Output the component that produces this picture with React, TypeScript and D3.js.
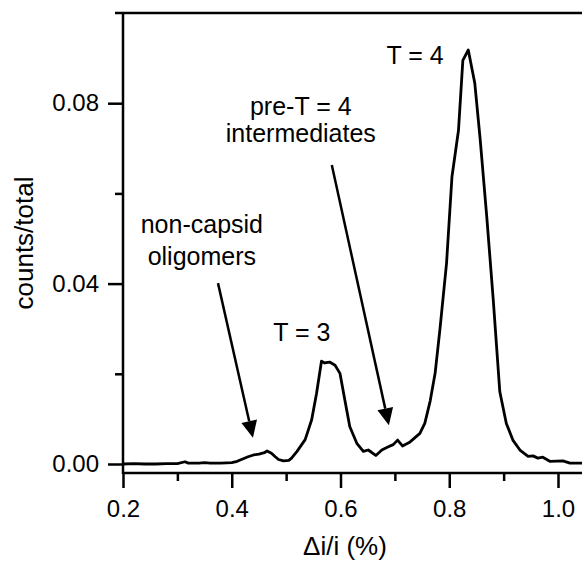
import React, { useEffect, useRef } from 'react';
import * as d3 from 'd3';

// bin centres (Δi/i, %) and fraction of counts
const binX = [
  0.2, 0.22, 0.24, 0.26, 0.28, 0.3, 0.314, 0.32, 0.34, 0.35, 0.36, 0.38, 0.4, 0.41, 0.42, 0.43,
  0.44, 0.45, 0.46, 0.465, 0.473, 0.48, 0.486, 0.495, 0.505, 0.51, 0.52, 0.535, 0.547, 0.556,
  0.565, 0.571, 0.58, 0.59, 0.599, 0.608, 0.617, 0.63, 0.642, 0.651, 0.657, 0.665, 0.676, 0.688,
  0.697, 0.705, 0.714, 0.728, 0.746, 0.755, 0.765, 0.774, 0.783, 0.795, 0.805, 0.817, 0.825,
  0.835, 0.847, 0.857, 0.869, 0.881, 0.893, 0.905, 0.917, 0.93, 0.945, 0.954, 0.963, 0.972,
  0.985, 1.009, 1.022, 1.05,
];
const counts = [
  0.0, 0.0001, 0.0, 0.0, 0.0001, 0.0001, 0.0005, 0.0002, 0.0002, 0.0003, 0.0002, 0.0002, 0.0003,
  0.0006, 0.0011, 0.0016, 0.002, 0.0022, 0.0025, 0.0029, 0.0024, 0.0016, 0.001, 0.0007, 0.0008,
  0.0013, 0.0028, 0.0054, 0.0098, 0.0157, 0.0228, 0.0224, 0.0226, 0.0219, 0.0201, 0.0142, 0.0083,
  0.0046, 0.0028, 0.0031, 0.0026, 0.0019, 0.0031, 0.0038, 0.0043, 0.0053, 0.004, 0.0049, 0.0068,
  0.009, 0.014, 0.0201, 0.03, 0.0445, 0.0637, 0.074, 0.0895, 0.0918, 0.0844, 0.0718, 0.0548,
  0.0363, 0.016, 0.009, 0.0053, 0.0031, 0.0017, 0.0018, 0.0013, 0.0015, 0.0006, 0.0007, 0.0002,
  0.0002,
];

const xMajor = [0.2, 0.4, 0.6, 0.8, 1.0];
const xMinor = [0.3, 0.5, 0.7, 0.9];
const yMajor = [0, 0.04, 0.08];
const yMinor = [0.02, 0.06];

// annotation labels and arrows, in data units
const labels = [
  { text: 'T = 4', x: 0.737, y: 0.0886 },
  { text: 'pre-T = 4', x: 0.527, y: 0.0773 },
  { text: 'intermediates', x: 0.527, y: 0.0714 },
  { text: 'non-capsid', x: 0.345, y: 0.0512 },
  { text: 'oligomers', x: 0.345, y: 0.0441 },
  { text: 'T = 3', x: 0.529, y: 0.0273 },
];
const arrows = [
  { x0: 0.3747, y0: 0.0401, x1: 0.439, y1: 0.0058 },
  { x0: 0.584, y0: 0.0663, x1: 0.689, y1: 0.0086 },
];

const FONT = '"Liberation Sans", Arial, sans-serif';

const App = () => {
  const svgRef = useRef(null);

  useEffect(() => {
    const W = 582;
    const H = 565;
    const left = 123;
    const top = 13;
    const axisY = 473;

    const svg = d3.select(svgRef.current).attr('width', W).attr('height', H);
    svg.selectAll('*').remove();

    const x = d3.scaleLinear().domain([0.2, 1.0]).range([left, 558]);
    const y = d3.scaleLinear().domain([0, 0.1]).range([464, top]);

    // frame: top line and axes
    svg.append('line')
      .attr('x1', 115).attr('x2', W + 5).attr('y1', top).attr('y2', top)
      .attr('stroke', '#000').attr('stroke-width', 2.5);

    // x axis
    const gx = svg.append('g').attr('transform', `translate(0,${axisY})`);
    gx.call(d3.axisBottom(x).tickValues(xMajor).tickSize(15).tickPadding(12)
      .tickFormat(d3.format('.1f')));
    gx.append('g').call(d3.axisBottom(x).tickValues(xMinor).tickSize(8).tickFormat(() => ''));
    gx.selectAll('.domain').remove();
    gx.append('line').attr('x1', left).attr('x2', W + 5).attr('y1', 0).attr('y2', 0)
      .attr('stroke', '#000').attr('stroke-width', 2.5);

    // y axis
    const gy = svg.append('g').attr('transform', `translate(${left},0)`);
    gy.call(d3.axisLeft(y).tickValues(yMajor).tickSize(15).tickPadding(9)
      .tickFormat(d3.format('.2f')));
    gy.append('g').call(d3.axisLeft(y).tickValues(yMinor).tickSize(8).tickFormat(() => ''));
    gy.selectAll('.domain').remove();
    gy.append('line').attr('x1', 0).attr('x2', 0).attr('y1', top).attr('y2', axisY + 1)
      .attr('stroke', '#000').attr('stroke-width', 2.5);

    svg.selectAll('.tick line').attr('stroke', '#000').attr('stroke-width', 2.5);
    svg.selectAll('.tick text')
      .attr('fill', '#000')
      .style('font-family', FONT)
      .style('font-size', '24px');

    // axis titles
    svg.append('text')
      .attr('x', 345).attr('y', 555)
      .attr('text-anchor', 'middle')
      .style('font-family', FONT).style('font-size', '26px')
      .text('Δi/i (%)');

    svg.append('text')
      .attr('transform', 'translate(33,243) rotate(-90)')
      .attr('text-anchor', 'middle')
      .style('font-family', FONT).style('font-size', '26px')
      .text('counts/total');

    // histogram curve
    const pts = binX.map((v, i) => [v, counts[i]]);
    const line = d3.line().x(d => x(d[0])).y(d => y(d[1]));
    svg.append('path')
      .datum(pts)
      .attr('d', line)
      .attr('fill', 'none')
      .attr('stroke', '#000')
      .attr('stroke-width', 2.8)
      .attr('stroke-linejoin', 'round');

    // labels
    svg.selectAll('.lab')
      .data(labels)
      .enter()
      .append('text')
      .attr('class', 'lab')
      .attr('x', d => x(d.x))
      .attr('y', d => y(d.y))
      .attr('text-anchor', 'middle')
      .style('font-family', FONT)
      .style('font-size', '25px')
      .text(d => d.text);

    // arrows
    arrows.forEach(a => {
      const sx = x(a.x0), sy = y(a.y0), ex = x(a.x1), ey = y(a.y1);
      const ang = Math.atan2(ey - sy, ex - sx);
      const len = 17, half = 8;
      const bx = ex - len * Math.cos(ang), by = ey - len * Math.sin(ang);
      svg.append('line')
        .attr('x1', sx).attr('y1', sy).attr('x2', bx).attr('y2', by)
        .attr('stroke', '#000').attr('stroke-width', 2.5);
      const px = -Math.sin(ang) * half, py = Math.cos(ang) * half;
      svg.append('path')
        .attr('d', `M${ex},${ey}L${bx + px},${by + py}L${bx - px},${by - py}Z`)
        .attr('fill', '#000');
    });
  }, []);

  return (
    <svg ref={svgRef} style={{ position: 'absolute', left: 0, top: 0, background: '#fff' }}></svg>
  );
};

export default App;
